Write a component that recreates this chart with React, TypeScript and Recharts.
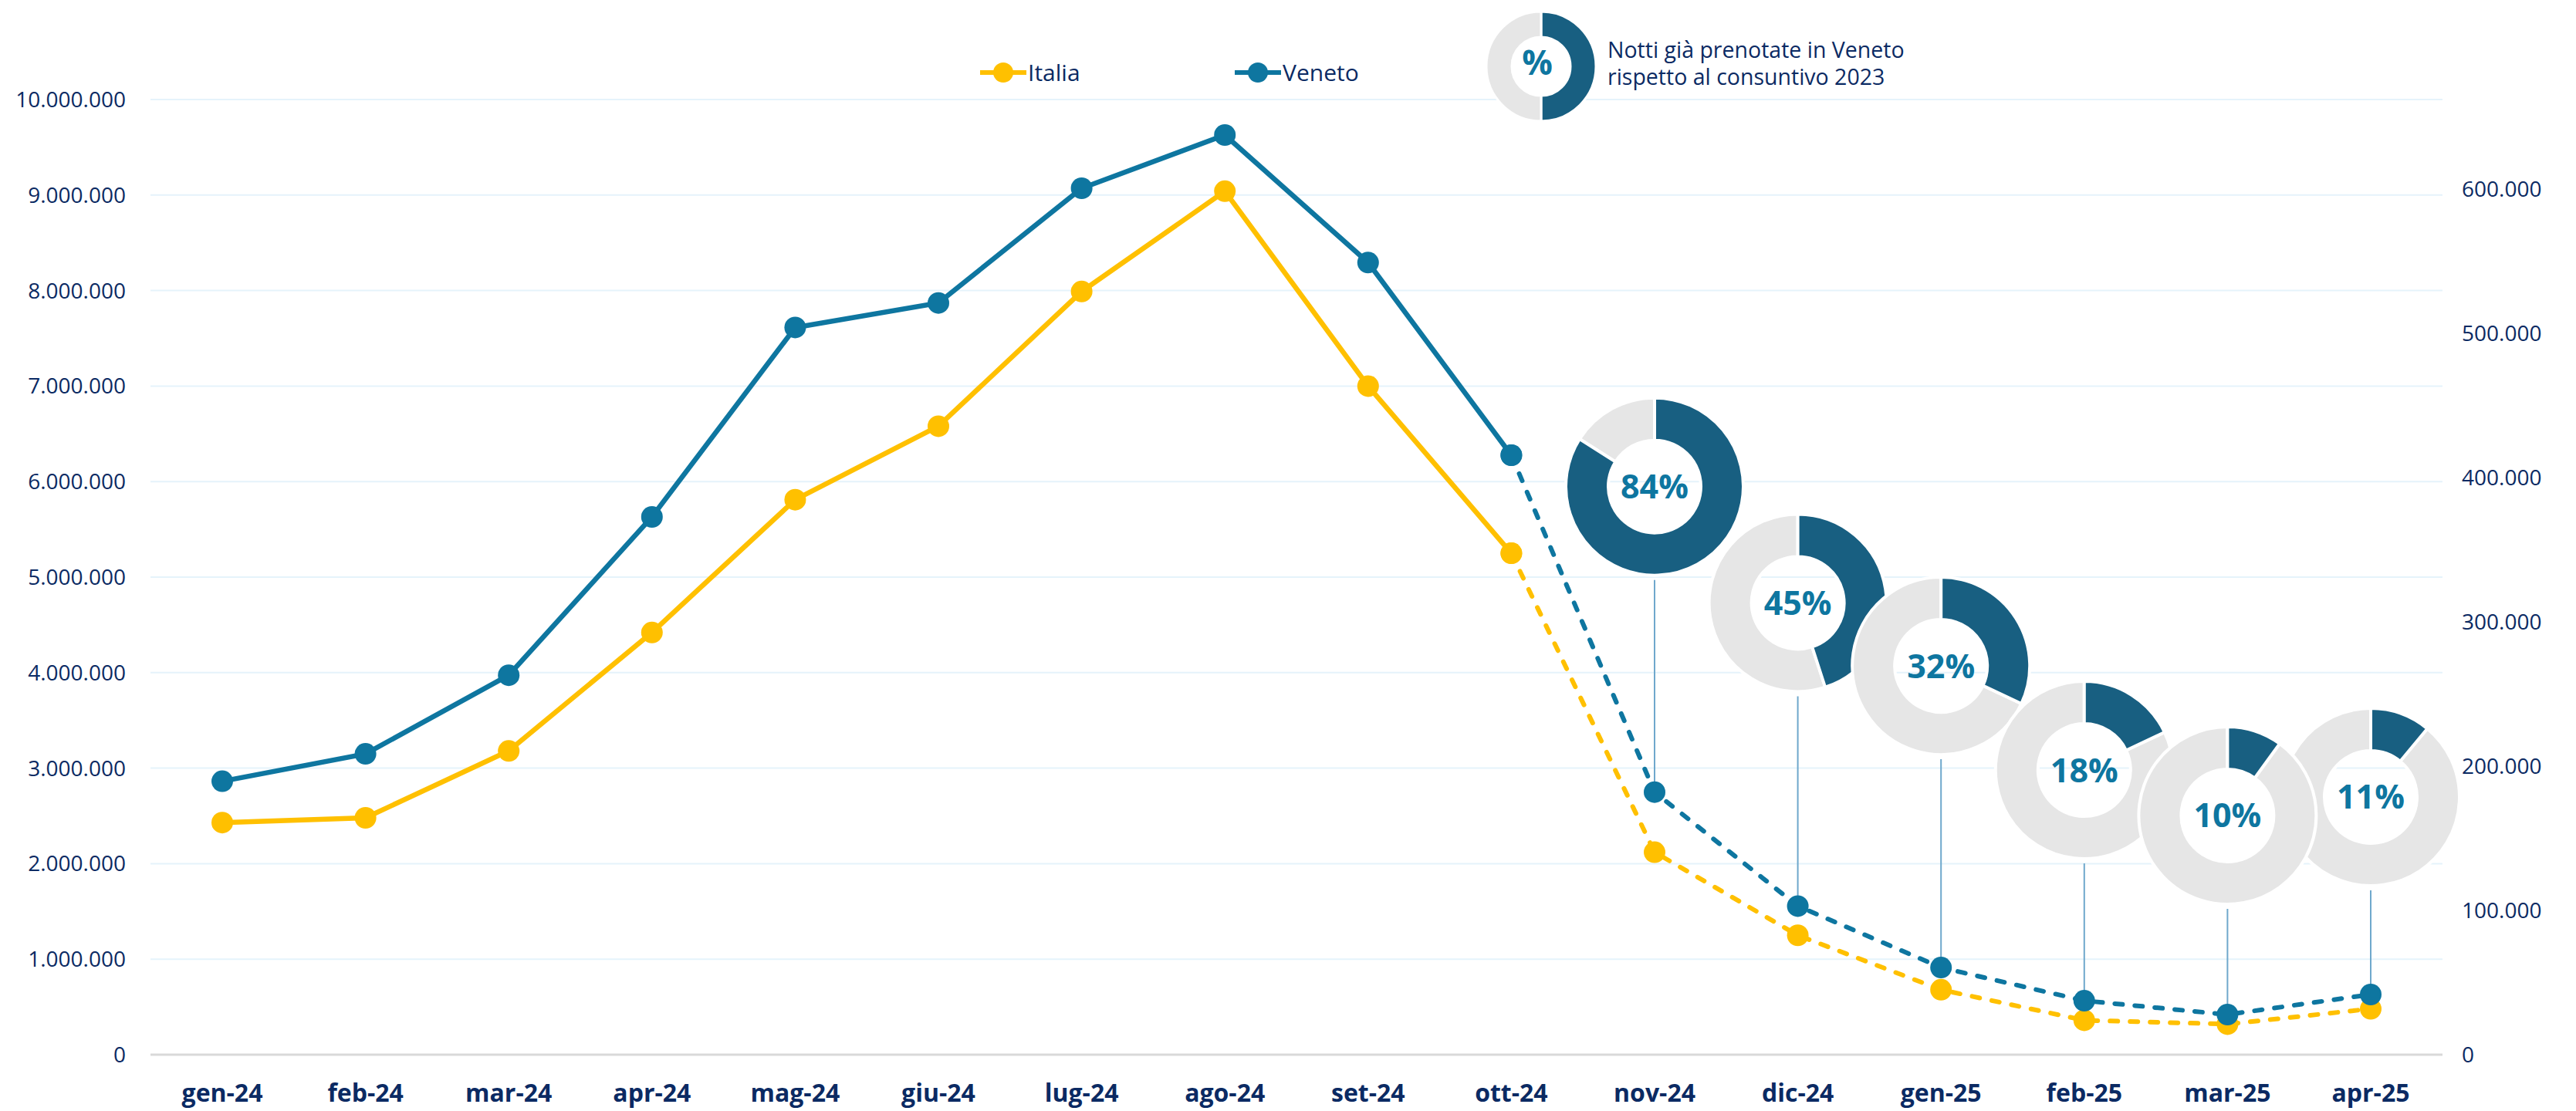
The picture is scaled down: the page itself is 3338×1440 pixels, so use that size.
import { ComposedChart, Line, XAxis, YAxis, CartesianGrid, Sector, PieChart, Pie, Cell, Label } from 'recharts'

const months = ['gen-24', 'feb-24', 'mar-24', 'apr-24', 'mag-24', 'giu-24', 'lug-24', 'ago-24', 'set-24', 'ott-24', 'nov-24', 'dic-24', 'gen-25', 'feb-25', 'mar-25', 'apr-25']
// notti (asse sinistro)
const italia = [2430000, 2480000, 3180000, 4420000, 5810000, 6580000, 7990000, 9040000, 7000000, 5250000, 2120000, 1250000, 680000, 360000, 320000, 480000]
// notti (asse destro)
const veneto = [189500, 208500, 263000, 372700, 504000, 521000, 600500, 637400, 549000, 415500, 182000, 103000, 60400, 37400, 27800, 41700]
// % notti già prenotate in Veneto rispetto al consuntivo 2023
const prenotate = [null, null, null, null, null, null, null, null, null, null, 84, 45, 32, 18, 10, 11]
const lastActual = 9 // ott-24: from here the line turns dashed

const leftTicks = [0, 1000000, 2000000, 3000000, 4000000, 5000000, 6000000, 7000000, 8000000, 9000000, 10000000]
const rightTicks = [0, 100000, 200000, 300000, 400000, 500000, 600000]

const legendDonut = [{ name: 'prenotate', value: 50 }, { name: 'resto', value: 50 }]

const YELLOW = '#FFC000'
const BLUE = '#0E76A0'
const DARK = '#185F81'
const GREY = '#E6E6E6'
const NAVY = '#0B2A63'
const FONT = '"Open Sans", "Noto Sans", sans-serif'

// how far above its point each donut sits (layout only)
const DONUT_LIFT: Record<number, number> = { 10: 396, 11: 393, 12: 391, 13: 299, 14: 258, 15: 256 }
const R_OUT = 115
const R_IN = 60

const fmt = (n: number) => String(n).replace(/\B(?=(\d{3})+(?!\d))/g, '.')

const data = months.map((month, i) => ({
  month,
  italia: i <= lastActual ? italia[i] : null,
  italiaFc: i >= lastActual ? italia[i] : null,
  veneto: i <= lastActual ? veneto[i] : null,
  venetoFc: i >= lastActual ? veneto[i] : null,
  pct: prenotate[i],
}))

const donutDot = (show: (i: number) => boolean) => (props: any) => {
  const { cx, cy, index, payload } = props
  if (payload?.pct == null || cx == null || cy == null || !show(index)) return <g key={`dn-${index}`} />
  const dy = cy - DONUT_LIFT[index]
  const split = 90 - payload.pct * 3.6
  return (
    <g key={`dn-${index}`}>
      <line x1={cx} x2={cx} y1={dy + R_OUT + 6} y2={cy} stroke="#6FA8CC" strokeWidth={2} />
      <Sector cx={cx} cy={dy} innerRadius={R_IN} outerRadius={R_OUT} startAngle={split} endAngle={-270} fill={GREY} stroke="#fff" strokeWidth={4} />
      <Sector cx={cx} cy={dy} innerRadius={R_IN} outerRadius={R_OUT} startAngle={90} endAngle={split} fill={DARK} stroke="#fff" strokeWidth={4} />
      <text x={cx} y={dy} dy="0.36em" textAnchor="middle" fontFamily={FONT} fontWeight={700} fontSize={43} fill={BLUE}>
        {payload.pct}%
      </text>
    </g>
  )
}

const LegendItem = ({ color, label, left }: { color: string; label: string; left: number }) => (
  <div style={{ position: 'absolute', left, top: 79, display: 'flex', alignItems: 'center', height: 30 }}>
    <svg width={60} height={30}>
      <line x1={0} x2={60} y1={15} y2={15} stroke={color} strokeWidth={6} />
      <circle cx={30} cy={15} r={13} fill={color} />
    </svg>
    <span style={{ fontSize: 30, lineHeight: '30px', color: NAVY, marginLeft: 2 }}>{label}</span>
  </div>
)

export default function App() {
  const lineDot = (color: string) => ({ r: 14, fill: color, stroke: color, strokeWidth: 0 })

  return (
    <div style={{ position: 'absolute', left: 0, top: 0, width: 3338, height: 1440, background: '#fff', fontFamily: FONT }}>
      <ComposedChart width={3338} height={1440} data={data} margin={{ top: 129, right: 0, bottom: 0, left: 0 }}>
        <CartesianGrid yAxisId="left" vertical={false} stroke="#E5F3FB" strokeWidth={2} />
        <XAxis
          dataKey="month"
          height={73}
          interval={0}
          padding={{ left: 93, right: 93 }}
          tickLine={false}
          tickSize={0}
          tickMargin={38}
          axisLine={{ stroke: '#D9D9D9', strokeWidth: 3 }}
          tick={{ fontSize: 32, fontWeight: 700, fill: NAVY, fontFamily: FONT }}
        />
        <YAxis
          yAxisId="left"
          width={195}
          domain={[0, 10000000]}
          ticks={leftTicks}
          tickFormatter={fmt}
          axisLine={false}
          tickLine={false}
          tickSize={0}
          tickMargin={32}
          tick={{ fontSize: 28, fill: NAVY, fontFamily: FONT }}
        />
        <YAxis
          yAxisId="right"
          orientation="right"
          width={173}
          domain={[0, 662000]}
          ticks={rightTicks}
          tickFormatter={fmt}
          axisLine={false}
          tickLine={false}
          tickSize={0}
          tickMargin={25}
          tick={{ fontSize: 28, fill: NAVY, fontFamily: FONT, textAnchor: 'start' }}
        />

        {/* donuts + leader lines, mar-25 drawn last so it sits on top */}
        <Line yAxisId="right" dataKey="venetoFc" stroke="none" dot={donutDot(i => i !== 14)} activeDot={false} isAnimationActive={false} legendType="none" />
        <Line yAxisId="right" dataKey="venetoFc" stroke="none" dot={donutDot(i => i === 14)} activeDot={false} isAnimationActive={false} legendType="none" />

        <Line yAxisId="left" dataKey="italia" stroke={YELLOW} strokeWidth={6.5} dot={lineDot(YELLOW)} activeDot={false} isAnimationActive={false} />
        <Line yAxisId="left" dataKey="italiaFc" stroke={YELLOW} strokeWidth={6} strokeDasharray="10 16" strokeLinecap="round" dot={lineDot(YELLOW)} activeDot={false} isAnimationActive={false} />
        <Line yAxisId="right" dataKey="veneto" stroke={BLUE} strokeWidth={6.5} dot={lineDot(BLUE)} activeDot={false} isAnimationActive={false} />
        <Line yAxisId="right" dataKey="venetoFc" stroke={BLUE} strokeWidth={6} strokeDasharray="10 16" strokeLinecap="round" dot={lineDot(BLUE)} activeDot={false} isAnimationActive={false} />
      </ComposedChart>

      <LegendItem color={YELLOW} label="Italia" left={1270} />
      <LegendItem color={BLUE} label="Veneto" left={1600} />

      <div style={{ position: 'absolute', left: 1912, top: 1 }}>
        <PieChart width={160} height={160}>
          <Pie
            data={legendDonut}
            dataKey="value"
            cx={80}
            cy={80}
            innerRadius={38}
            outerRadius={71}
            startAngle={90}
            endAngle={-270}
            stroke="#fff"
            strokeWidth={3}
            isAnimationActive={false}
          >
            <Cell fill={DARK} />
            <Cell fill={GREY} />
            <Label value="%" position="center" fill={BLUE} fontSize={44} fontWeight={700} fontFamily={FONT} />
          </Pie>
        </PieChart>
      </div>
      <div style={{ position: 'absolute', left: 2083, top: 47, fontSize: 28.5, lineHeight: '35px', color: NAVY, whiteSpace: 'pre' }}>
        {'Notti già prenotate in Veneto\nrispetto al consuntivo 2023'}
      </div>
    </div>
  )
}
